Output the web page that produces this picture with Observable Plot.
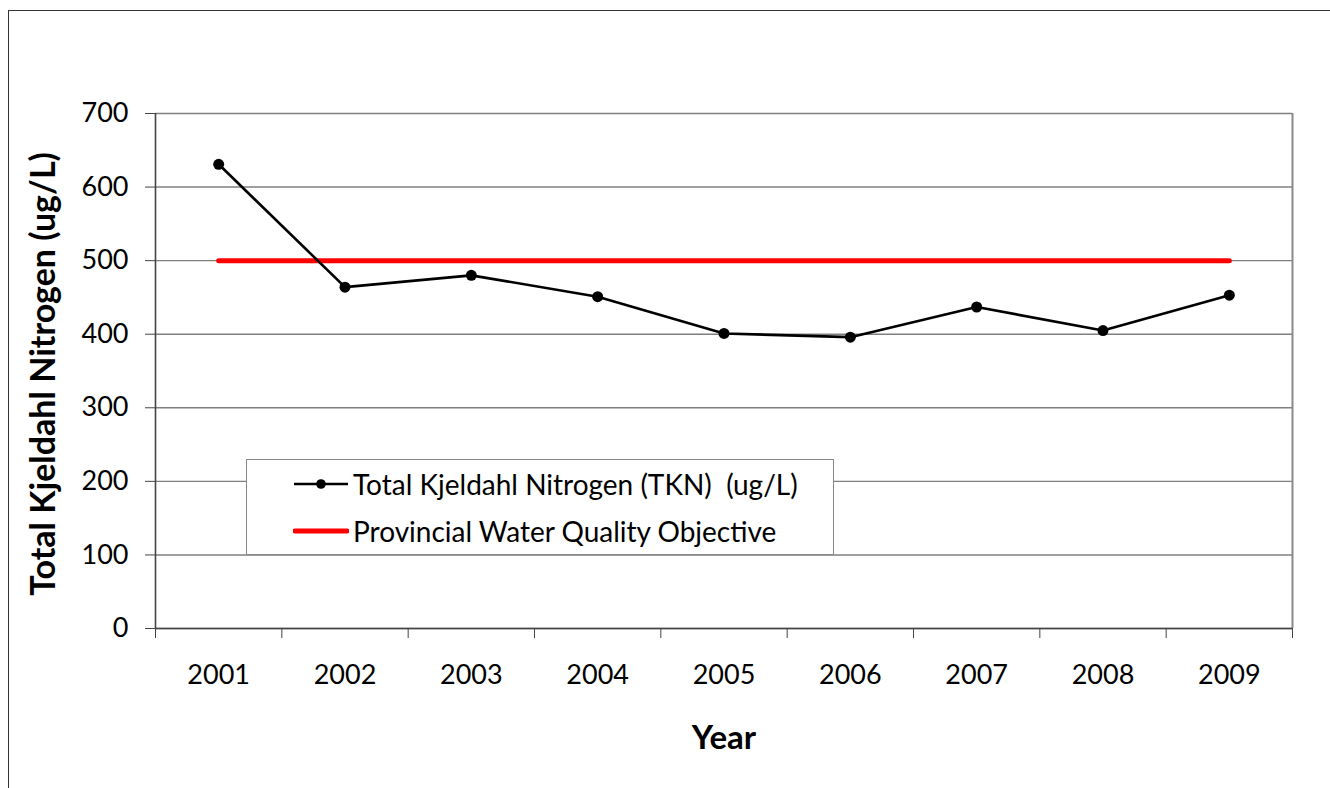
<!DOCTYPE html>
<html><head><meta charset="utf-8">
<script src="https://cdn.jsdelivr.net/npm/d3@7"></script>
<script src="https://cdn.jsdelivr.net/npm/@observablehq/plot@0.6"></script>
<style>
body{margin:0;background:#fff;font-family:Lato,"Open Sans",sans-serif}
#wrap{position:relative;width:1330px;height:788px;overflow:hidden;background:#fff}
#border{position:absolute;left:8px;top:10px;width:1400px;height:900px;border:1.5px solid #333;box-sizing:border-box;pointer-events:none}
#chart{position:absolute;left:0;top:0}
#legend{position:absolute;left:246px;top:459px;width:588px;height:96px;border:1.5px solid #888;background:#fff;box-sizing:border-box;font-family:Lato,sans-serif;font-size:28px;color:#000}
.row{position:absolute;left:46px;display:flex;align-items:center;height:32px}
.row svg{margin-right:4px}
</style>
</head><body>
<div id="wrap"><div id="chart"></div><div id="border"></div><div id="legend"></div></div>
<script>
const years = [2001, 2002, 2003, 2004, 2005, 2006, 2007, 2008, 2009];
const tkn = [631, 464, 480, 451, 401, 396, 437, 405, 453];
const pwqo = 500;
const yTicks = [0, 100, 200, 300, 400, 500, 600, 700];
const seriesNames = ["Total Kjeldahl Nitrogen (TKN)\u00a0\u00a0(ug/L)", "Provincial Water Quality Objective"];
const yTitle = "Total Kjeldahl Nitrogen (ug/L)";
const xTitle = "Year";

const rows = years.map((y, i) => ({year: y, tkn: tkn[i], pwqo}));
const xMin = years[0] - 0.5, xMax = years[years.length - 1] + 0.5;
const bounds = d3.range(xMin, xMax + 0.01, 1);

const chart = Plot.plot({
  width: 1330, height: 788,
  marginLeft: 155, marginRight: 38, marginTop: 113, marginBottom: 160,
  style: {fontFamily: "Lato, sans-serif", color: "#000", background: "transparent"},
  x: {type: "linear", domain: [xMin, xMax]},
  y: {domain: [0, 700]},
  marks: [
    Plot.gridY(yTicks, {stroke: "#7f7f7f", strokeOpacity: 1, strokeWidth: 1.4}),
    Plot.ruleX([xMax], {stroke: "#8a8a8a", strokeWidth: 2}),
    Plot.ruleX([xMin], {stroke: "#444", strokeWidth: 1.6}),
    Plot.ruleY([0], {stroke: "#444", strokeWidth: 1.6}),
    Plot.axisY(yTicks, {tickSize: 10, tickPadding: 17, fontSize: 27, label: null, stroke: "#444", tickFormat: d => d}),
    Plot.axisX(bounds, {tickSize: 10, tickFormat: () => "", label: null, stroke: "#444"}),
    Plot.axisX(years, {tickSize: 0, tickPadding: 36, fontSize: 27, label: null, tickFormat: d => String(d)}),
    Plot.line(rows, {x: "year", y: "pwqo", stroke: "#ff0000", strokeWidth: 5, strokeLinecap: "round"}),
    Plot.line(rows, {x: "year", y: "tkn", stroke: "#000", strokeWidth: 2.6}),
    Plot.dot(rows, {x: "year", y: "tkn", r: 5.5, fill: "#000"}),
    Plot.text([yTitle], {frameAnchor: "left", textAnchor: "middle", lineAnchor: "middle", dx: -111, dy: 3, rotate: -90, fontSize: 34, fontWeight: "bold", fill: "#000"}),
    Plot.text([xTitle], {frameAnchor: "bottom", lineAnchor: "middle", dy: 110, fontSize: 33, fontWeight: "bold", fill: "#000"})
  ]
});
document.getElementById("chart").appendChild(chart);

const legend = document.getElementById("legend");
seriesNames.forEach((name, i) => {
  const row = document.createElement("div");
  row.className = "row";
  row.style.top = (i === 0 ? 8 : 55) + "px";
  const sw = i === 0
    ? '<svg width="56" height="14"><line x1="1" y1="7" x2="55" y2="7" stroke="#000" stroke-width="2.4"/><circle cx="28" cy="7" r="4.8" fill="#000"/></svg>'
    : '<svg width="56" height="14"><line x1="2" y1="7" x2="54" y2="7" stroke="#ff0000" stroke-width="5" stroke-linecap="round"/></svg>';
  row.innerHTML = sw + '<span>' + name + '</span>';
  legend.appendChild(row);
});
</script>
</body></html>
